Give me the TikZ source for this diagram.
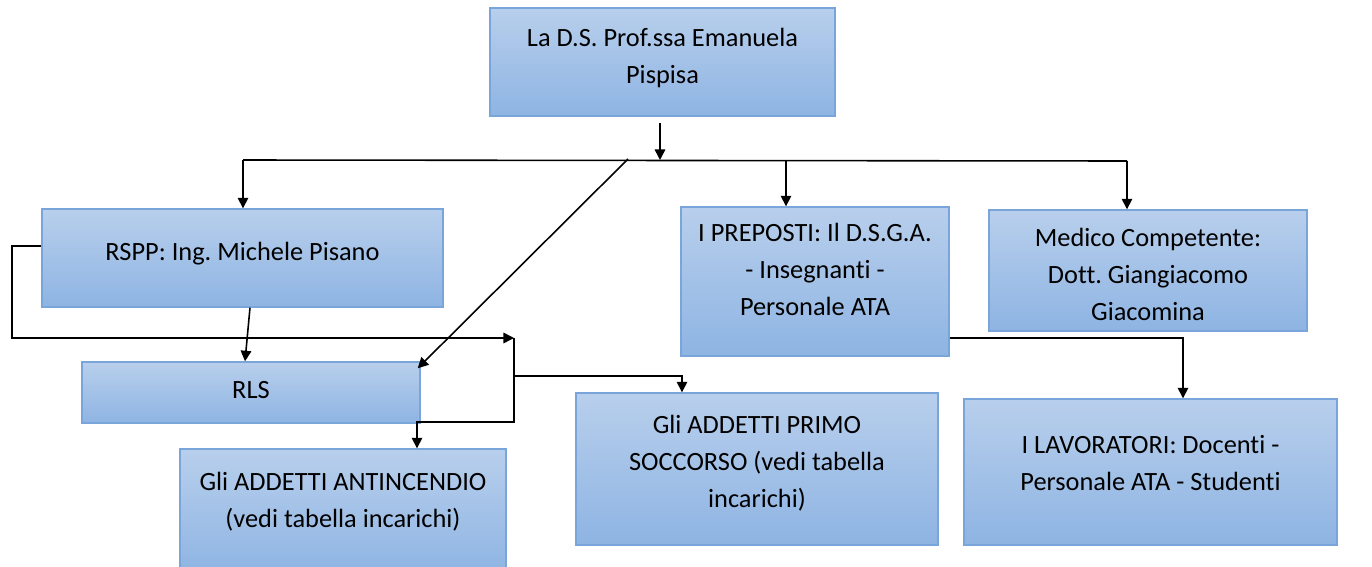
\documentclass[tikz,border=0pt]{standalone}
\usepackage{fontspec}
\setmainfont{Carlito}[Ligatures=NoCommon]
\usepackage{xcolor}
\usetikzlibrary{arrows.meta,calc}
\frenchspacing

\definecolor{boxtop}{HTML}{B8CFEC}
\definecolor{boxbot}{HTML}{8EB4E3}
\definecolor{boxline}{HTML}{79A5DA}

% text lines of a box, lifted a little without moving the box
\newcommand{\boxlines}[2]{\raisebox{#1}[\height][\depth]{\begin{tabular}{@{}c@{}}#2\end{tabular}}}

\begin{document}
\begin{tikzpicture}
                \useasboundingbox (0,0) rectangle (27.44,-11.34);
                \begin{scope}[every node/.style = {draw=boxline, thick, top color=boxtop, bottom color=boxbot,
                                inner sep=0pt, font=\fontsize{15}{21}\selectfont}]
                    \node[minimum width=6.90cm, minimum height=2.16cm] (ds) at (13.25,-1.24)
                        {\boxlines{2.3pt}{La D.S. Prof.ssa Emanuela\\Pispisa}};
                    \node[minimum width=8.02cm, minimum height=1.96cm] (rspp) at (4.85,-5.16)
                        {\boxlines{2.8pt}{RSPP: Ing. Michele Pisano}};
                    \node[minimum width=6.76cm, minimum height=1.22cm] (rls) at (5.02,-7.85)
                        {\boxlines{1pt}{RLS}};
                    \node[minimum width=6.52cm, minimum height=2.52cm] (anti) at (6.86,-10.24)
                        {\boxlines{5.7pt}{Gli ADDETTI ANTINCENDIO\\(vedi tabella incarichi)}};
                    \node[minimum width=7.24cm, minimum height=3.04cm] (primo) at (15.14,-9.38)
                        {\boxlines{3.4pt}{Gli ADDETTI PRIMO\\SOCCORSO (vedi tabella\\incarichi)}};
                    \node[minimum width=5.36cm, minimum height=2.98cm] (prep) at (16.30,-5.63)
                        {\boxlines{5.7pt}{I PREPOSTI: Il D.S.G.A.\\- Insegnanti -\\Personale ATA}};
                    \node[minimum width=6.36cm, minimum height=2.42cm] (med) at (22.96,-5.41)
                        {\boxlines{-3.4pt}{Medico Competente:\\Dott. Giangiacomo\\Giacomina}};
                    \node[minimum width=7.46cm, minimum height=2.92cm] (lav) at (23.01,-9.44)
                        {\boxlines{4pt}{I LAVORATORI: Docenti -\\Personale ATA - Studenti}};
                \end{scope}

                % junctions
                \coordinate (bl) at (4.86,-3.20);
                \coordinate (br) at (22.54,-3.22);
                \coordinate (bd) at (13.20,-3.20);
                \coordinate (bp) at (15.72,-3.20);
                \coordinate (bs) at (12.56,-3.18);
                \coordinate (lc) at (0.24,-6.76);
                \coordinate (jn) at (10.28,-6.76);
                \coordinate (jp) at (10.28,-7.52);
                \coordinate (jp2) at (13.64,-7.52);
                \coordinate (ja) at (8.34,-8.44);
                \coordinate (jl) at (23.66,-6.76);

                \begin{scope}[>={Triangle[length=6pt,width=6pt]}, line width=0.9pt]
                     \draw (bl) -- (br);
                     \draw [->] ($(ds.south)+(-0.05,-0.12)$) -- (bd);
                     \draw [->] (bl) -- (bl |- rspp.north);
                     \draw [->] (bp) -- (bp |- prep.north);
                     \draw [->] (br) -- (br |- med.north);
                     \draw [->] (bs) -- ($(rls.north east)+(-0.06,-0.14)$);

                     \draw [->] ($(rspp.south)+(0.15,0)$) -- ($(rls.north)+(-0.12,0)$);
                     \draw [->] ($(rspp.west)+(0,0.24)$) -| (lc) -- (jn);
                     \draw [->] (jn) |- (ja) -- (ja |- anti.north);
                     \draw [->] (jp) -- (jp2) -- (jp2 |- primo.north);

                     \draw [->] (prep.east |- jl) -- (jl) -- (jl |- lav.north);
                \end{scope}
            \end{tikzpicture}
\end{document}
